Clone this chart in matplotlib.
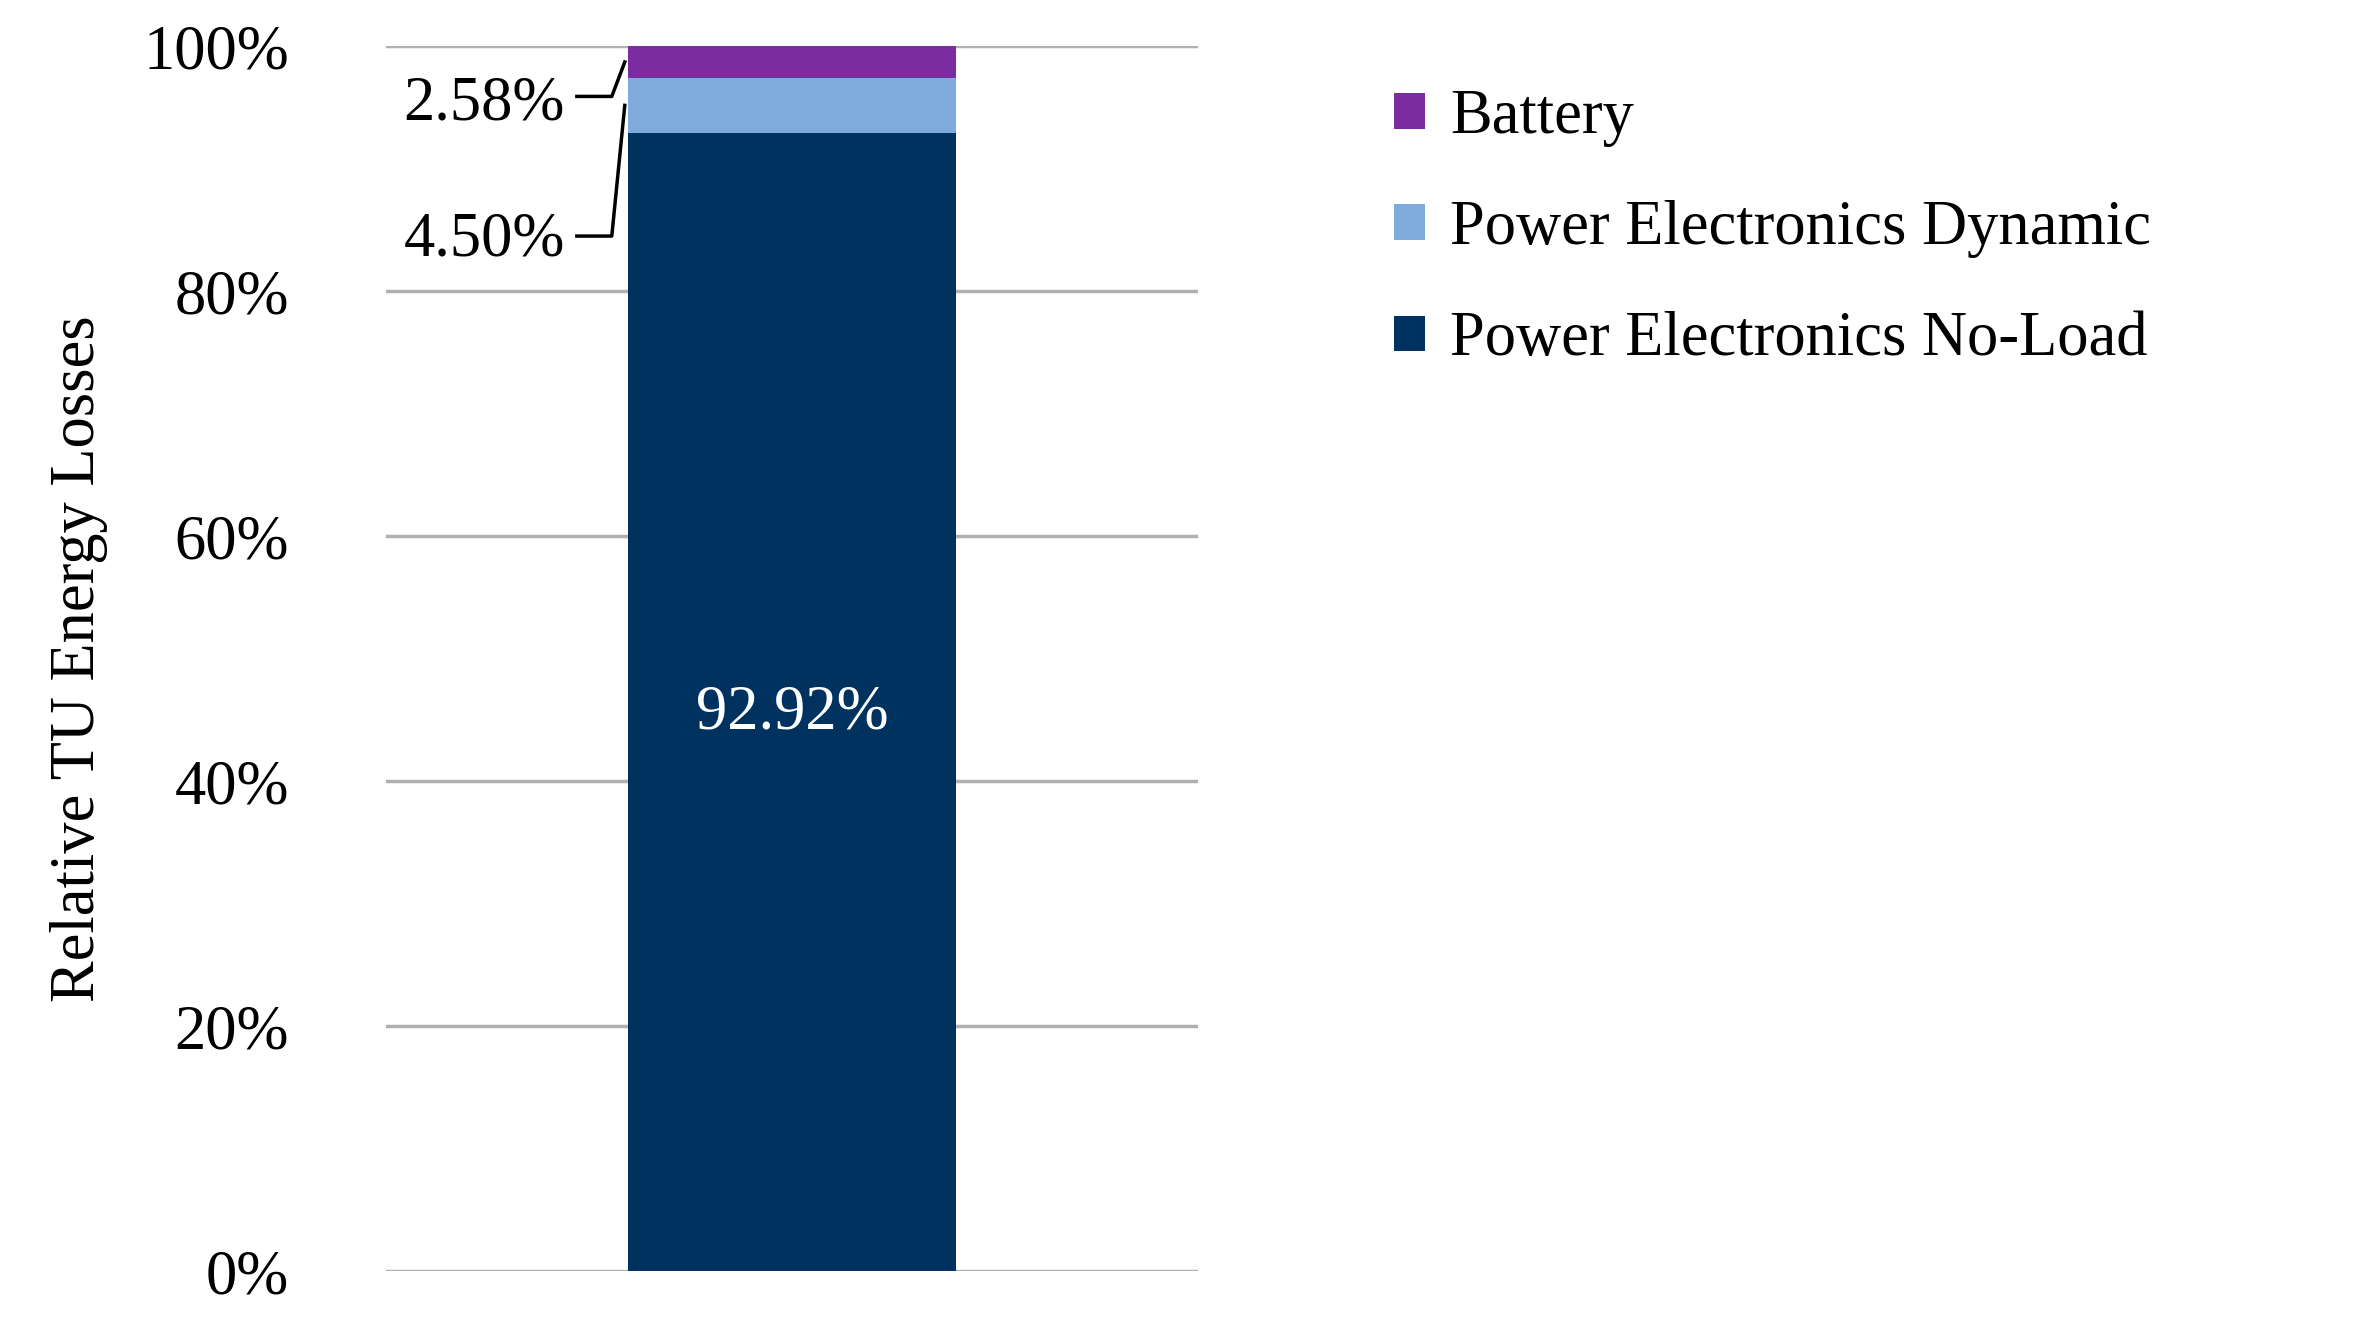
import matplotlib
matplotlib.use("Agg")
import matplotlib.pyplot as plt

categories = ["TU"]
series = ["Power Electronics No-Load", "Power Electronics Dynamic", "Battery"]
values = [92.92, 4.50, 2.58]
colors = ["#00325F", "#7EAADC", "#7B2C9E"]
yticks = [0, 20, 40, 60, 80, 100]

plt.rcParams['font.family'] = ['Liberation Serif', 'DejaVu Serif']
fs = 45
fig = plt.figure(figsize=(23.68, 13.2), dpi=100)
ax = fig.add_axes([0.163, 0.037, 0.343, 0.928])

bottom = 0
handles = []
mids = []
for s, v, c in zip(series, values, colors):
    h = ax.bar(0, v, width=0.403, bottom=bottom, color=c, label=s, zorder=3)
    handles.append(h)
    mids.append(bottom + v / 2)
    bottom += v

ax.set_xlim(-0.5, 0.5)
ax.set_ylim(0, 100)
ax.set_yticks(yticks)
ax.set_yticklabels([f"{t}%" for t in yticks], fontsize=fs)
ax.set_xticks([])
ax.grid(axis='y', color='#B0B0B0', linewidth=2.5, zorder=0)
for sp in ax.spines.values():
    sp.set_visible(False)
ax.tick_params(axis='y', length=0, pad=70)
ax.set_ylabel("Relative TU Energy Losses", fontsize=fs, labelpad=25)

ax.text(0, mids[0] - 0.9, f"{values[0]:.2f}%", color='white', ha='center', va='center', fontsize=fs, zorder=4)

lab = [(values[1], 84.1, 84.5, mids[1]), (values[2], 95.2, 95.9, mids[2])]
for v, ty, ly, my in lab:
    ax.text(-0.28, ty, f"{v:.2f}%", ha='right', va='center', fontsize=fs, zorder=4)
    ax.plot([-0.265, -0.222, -0.206], [ly, ly, my], color='black', lw=2.5, zorder=4, clip_on=False)

fig.legend(handles[::-1], series[::-1], loc='upper left', bbox_to_anchor=(0.565, 0.975),
           frameon=False, fontsize=fs, handlelength=0.5, handleheight=0.5,
           handletextpad=0.4, labelspacing=0.85)
fig.savefig("out.png", dpi=100)
